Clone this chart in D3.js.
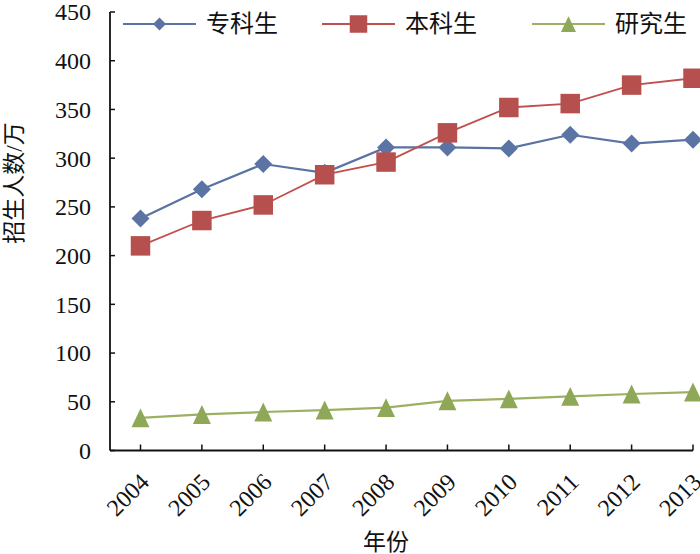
<!DOCTYPE html>
<html>
<head>
<meta charset="utf-8">
<script src="https://cdn.jsdelivr.net/npm/d3@7"></script>
<style>
  body { margin: 0; background: #fff; }
  text { font-family: "Liberation Serif", "Noto Sans CJK SC", serif; fill: #111; }
</style>
</head>
<body>
<div id="chart"></div>
<script>
// ========= Data ========= //
const years = ['2004', '2005', '2006', '2007', '2008', '2009', '2010', '2011', '2012', '2013'];
const zhuanke = [238, 268, 294, 285, 311, 311, 310, 324, 315, 319];
const benke = [210, 236, 252, 283, 296, 326, 352, 356, 375, 382];
const yanjiu = [33.5, 37, 39.5, 41.5, 44, 51, 53, 55.5, 58, 60];
const yTicks = [0, 50, 100, 150, 200, 250, 300, 350, 400, 450];

const seriesList = [
  { name: '专科生', values: zhuanke, color: '#5B74A4', line: '#5A73A3', lineWidth: 2.2, marker: 'diamond', legendX: 123 },
  { name: '本科生', values: benke, color: '#B5504E', line: '#C0504D', lineWidth: 1.8, marker: 'square', legendX: 322 },
  { name: '研究生', values: yanjiu, color: '#8FA858', line: '#9BB060', lineWidth: 2.2, marker: 'triangle', legendX: 532 }
];

const width = 700;
const height = 554;
const axisLeft = 110;
const axisRight = 693;

// ========= Scales ========= //
const x = d3.scalePoint().domain(years).range([140.5, axisRight]);
const y = d3.scaleLinear().domain([0, 450]).range([450.5, 12]);

// ========= Marker paths ========= //
function markerPath(type, s) {
  if (type === 'diamond') {
    const r = s / 2;
    return `M0,${-r}L${r},0L0,${r}L${-r},0Z`;
  }
  if (type === 'square') {
    const r = s / 2;
    return `M${-r},${-r}H${r}V${r}H${-r}Z`;
  }
  const w = s / 2;
  const h = s * 1.05 / 2;
  return `M0,${-h}L${w},${h}L${-w},${h}Z`;
}
const markerSize = { diamond: 18, square: 19.5, triangle: 18 };
const legendMarkerSize = { diamond: 13, square: 17.5, triangle: 15 };

// ========= SVG ========= //
const svg = d3.select('#chart').append('svg')
  .attr('width', width)
  .attr('height', height);

// ========= Axes ========= //
const axis = svg.append('g').attr('class', 'axes');

axis.append('line')
  .attr('x1', axisLeft).attr('x2', axisLeft)
  .attr('y1', y(450)).attr('y2', y(0))
  .attr('stroke', '#111').attr('stroke-width', 1.8);

axis.append('line')
  .attr('x1', axisLeft).attr('x2', axisRight)
  .attr('y1', y(0)).attr('y2', y(0))
  .attr('stroke', '#111').attr('stroke-width', 1.8);

axis.selectAll('.y-tick')
  .data(yTicks)
  .join('line')
  .attr('class', 'y-tick')
  .attr('x1', axisLeft).attr('x2', axisLeft + 5)
  .attr('y1', (d) => y(d)).attr('y2', (d) => y(d))
  .attr('stroke', '#111').attr('stroke-width', 1.5);

axis.selectAll('.y-label')
  .data(yTicks)
  .join('text')
  .attr('class', 'y-label')
  .attr('x', 91)
  .attr('y', (d) => y(d))
  .attr('dy', '0.35em')
  .attr('text-anchor', 'end')
  .attr('font-size', 24)
  .text((d) => d);

axis.selectAll('.x-tick')
  .data(years)
  .join('line')
  .attr('class', 'x-tick')
  .attr('x1', (d) => x(d)).attr('x2', (d) => x(d))
  .attr('y1', y(0)).attr('y2', y(0) - 6)
  .attr('stroke', '#111').attr('stroke-width', 1.5);

// year labels sit lower, turned 45 degrees
axis.selectAll('.x-label')
  .data(years)
  .join('text')
  .attr('class', 'x-label')
  .attr('transform', (d) => `translate(${x(d) + 4},${y(0) + 27}) rotate(-45)`)
  .attr('text-anchor', 'end')
  .attr('dy', '0.35em')
  .attr('font-size', 24)
  .text((d) => d);

svg.append('text')
  .attr('x', 386)
  .attr('y', 550)
  .attr('text-anchor', 'middle')
  .attr('font-size', 23)
  .attr('font-family', '"Noto Sans CJK SC", sans-serif')
  .text('年份');

svg.append('text')
  .attr('transform', 'translate(22,183) rotate(-90)')
  .attr('text-anchor', 'middle')
  .attr('font-size', 23)
  .attr('font-family', '"Noto Sans CJK SC", sans-serif')
  .text('招生人数/万');

// ========= Series ========= //
const line = d3.line()
  .x((d, i) => x(years[i]))
  .y((d) => y(d));

const series = svg.append('g').attr('class', 'series')
  .selectAll('g')
  .data(seriesList)
  .join('g');

series.append('path')
  .attr('fill', 'none')
  .attr('stroke', (d) => d.line)
  .attr('stroke-width', (d) => d.lineWidth)
  .attr('d', (d) => line(d.values));

series.each(function(s) {
  d3.select(this).selectAll('.marker')
    .data(s.values)
    .join('path')
    .attr('class', 'marker')
    .attr('transform', (d, i) => `translate(${x(years[i])},${y(d)})`)
    .attr('fill', s.color)
    .attr('d', markerPath(s.marker, markerSize[s.marker]));
});

// ========= Legend ========= //
const legend = svg.append('g').attr('class', 'legend')
  .selectAll('g')
  .data(seriesList)
  .join('g')
  .attr('transform', (d) => `translate(${d.legendX},24)`);

legend.append('line')
  .attr('x1', 0).attr('x2', 73)
  .attr('stroke', (d) => d.line)
  .attr('stroke-width', 2);

legend.append('path')
  .attr('transform', 'translate(36.5,0)')
  .attr('fill', (d) => d.color)
  .attr('d', (d) => markerPath(d.marker, legendMarkerSize[d.marker]));

legend.append('text')
  .attr('x', 83)
  .attr('dy', '0.35em')
  .attr('font-size', 24)
  .attr('font-family', '"Noto Sans CJK SC", sans-serif')
  .text((d) => d.name);
</script>
</body>
</html>
